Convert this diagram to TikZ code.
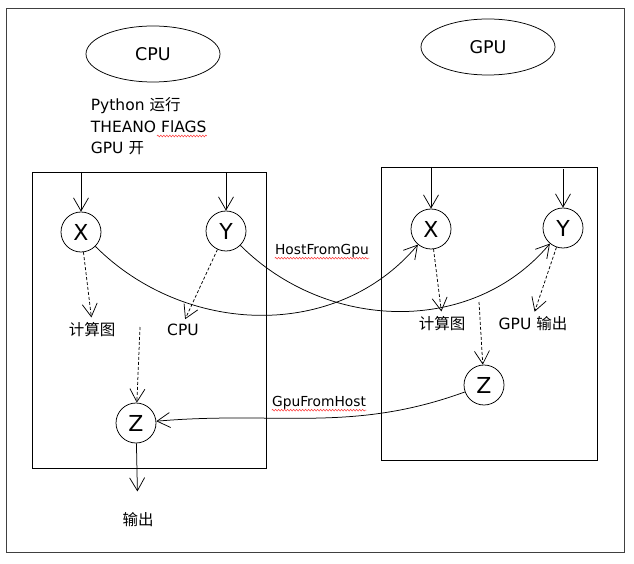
\documentclass[tikz,border=0pt]{standalone}
\usepackage{fontspec}
\setmainfont{DejaVu Sans}
\newfontfamily\cjk{Noto Sans CJK SC}
\usetikzlibrary{calc,arrows.meta,shapes.geometric,decorations.pathmorphing}

\begin{document}
\begin{tikzpicture}
	[x=1pt,y=-1pt,line width=0.75pt,every node/.style={inner sep=0pt, font=\fontsize{15.5}{18}\selectfont},
	arr/.style={-{Straight Barb[length=13pt,width=15pt,line width=0.75pt]}}]
	\tikzstyle{vert} = [circle, draw, minimum size=40pt, font=\fontsize{22}{24}\selectfont];
	\tikzstyle{dev} = [ellipse, draw, minimum width=134pt, minimum height=56pt, font=\fontsize{17.5}{20}\selectfont];
	\tikzstyle{darr} = [arr, dash pattern=on 3pt off 2pt, shorten >=5pt];
	\tikzstyle{wavy} = [red!80, line width=0.5pt, decorate, decoration={snake, amplitude=0.9pt, segment length=3pt}];
	
	\useasboundingbox (0,0) rectangle (634,564);
	\draw[black!75, line width=0.9pt] (6,8) rectangle (624,552);
	\draw (32,172) rectangle (266,468);
	\draw (381,167) rectangle (597,460);
	
	\node[dev] (cpu) at (153,54) {CPU};
	\node[dev] (gpu) at (488,47) {GPU};
	\node[anchor=base west] (t1) at (90.5,111) {Python {\cjk 运行}};
	\node[anchor=base west] (t2) at (90.5,132.5) {THEANO FlAGS};
	\node[anchor=base west] (t3) at (90.5,154) {GPU {\cjk 开}};
	
	\node[vert] (lx) at (81,232) {X};
	\node[vert] (ly) at (226,231) {Y};
	\node[vert] (lz) at (136,423) {Z};
	\node[vert] (rx) at (431,229) {X};
	\node[vert] (ry) at (563,228) {Y};
	\node[vert] (rz) at (484,385) {Z};
	
	\node (lg) at (92,330) {\cjk 计算图};
	\node (lc) at (183,330) {CPU};
	\node (rg) at (442,324) {\cjk 计算图};
	\node (ro) at (533,324) {GPU {\cjk 输出}};
	\node (out) at (138,520) {\cjk 输出};
	\node[font=\fontsize{13.8}{16}\selectfont] (hfg) at (322,251) {HostFromGpu};
	\node[font=\fontsize{13.8}{16}\selectfont] (gfh) at (319,403) {GpuFromHost};
	
	\coordinate (lxin) at (81,172);
	\coordinate (lyin) at (226,173);
	\coordinate (rxin) at (431,167);
	\coordinate (ryin) at (563,169);
	\coordinate (lmid) at (140,327);
	\coordinate (rmid) at (479,302);
	
	\draw[arr] (lxin) -- (lx);
	\draw[arr] (lyin) -- (ly);
	\draw[arr] (rxin) -- (rx);
	\draw[arr] (ryin) -- (ry);
	\draw[arr, shorten >=21pt] (lz) -- (out);
	
	\draw[darr] (lx) -- (lg.north);
	\draw[darr] (ly) -- (lc.north);
	\draw[darr] (rx) -- (rg.north);
	\draw[darr] (ry) -- (ro.north);
	\draw[darr, shorten >=0pt] (lmid) -- (lz);
	\draw[darr, shorten >=0pt] (rmid) -- (rz);
	
	\draw[arr] (lx) to[out=-45, in=-130] (rx);
	\draw[arr] (ly) to[out=-45, in=-130] (ry);
	\draw[arr] (rz) to[out=-160, in=5] (lz);
	
	\draw[wavy] ($(t2.base east)+(-50,3.5)$) -- ($(t2.base east)+(0,3.5)$);
	\draw[wavy] ($(hfg.base west)+(0,3.5)$) -- ($(hfg.base east)+(0,3.5)$);
	\draw[wavy] ($(gfh.base west)+(0,3.5)$) -- ($(gfh.base east)+(0,3.5)$);
\end{tikzpicture}
\end{document}
